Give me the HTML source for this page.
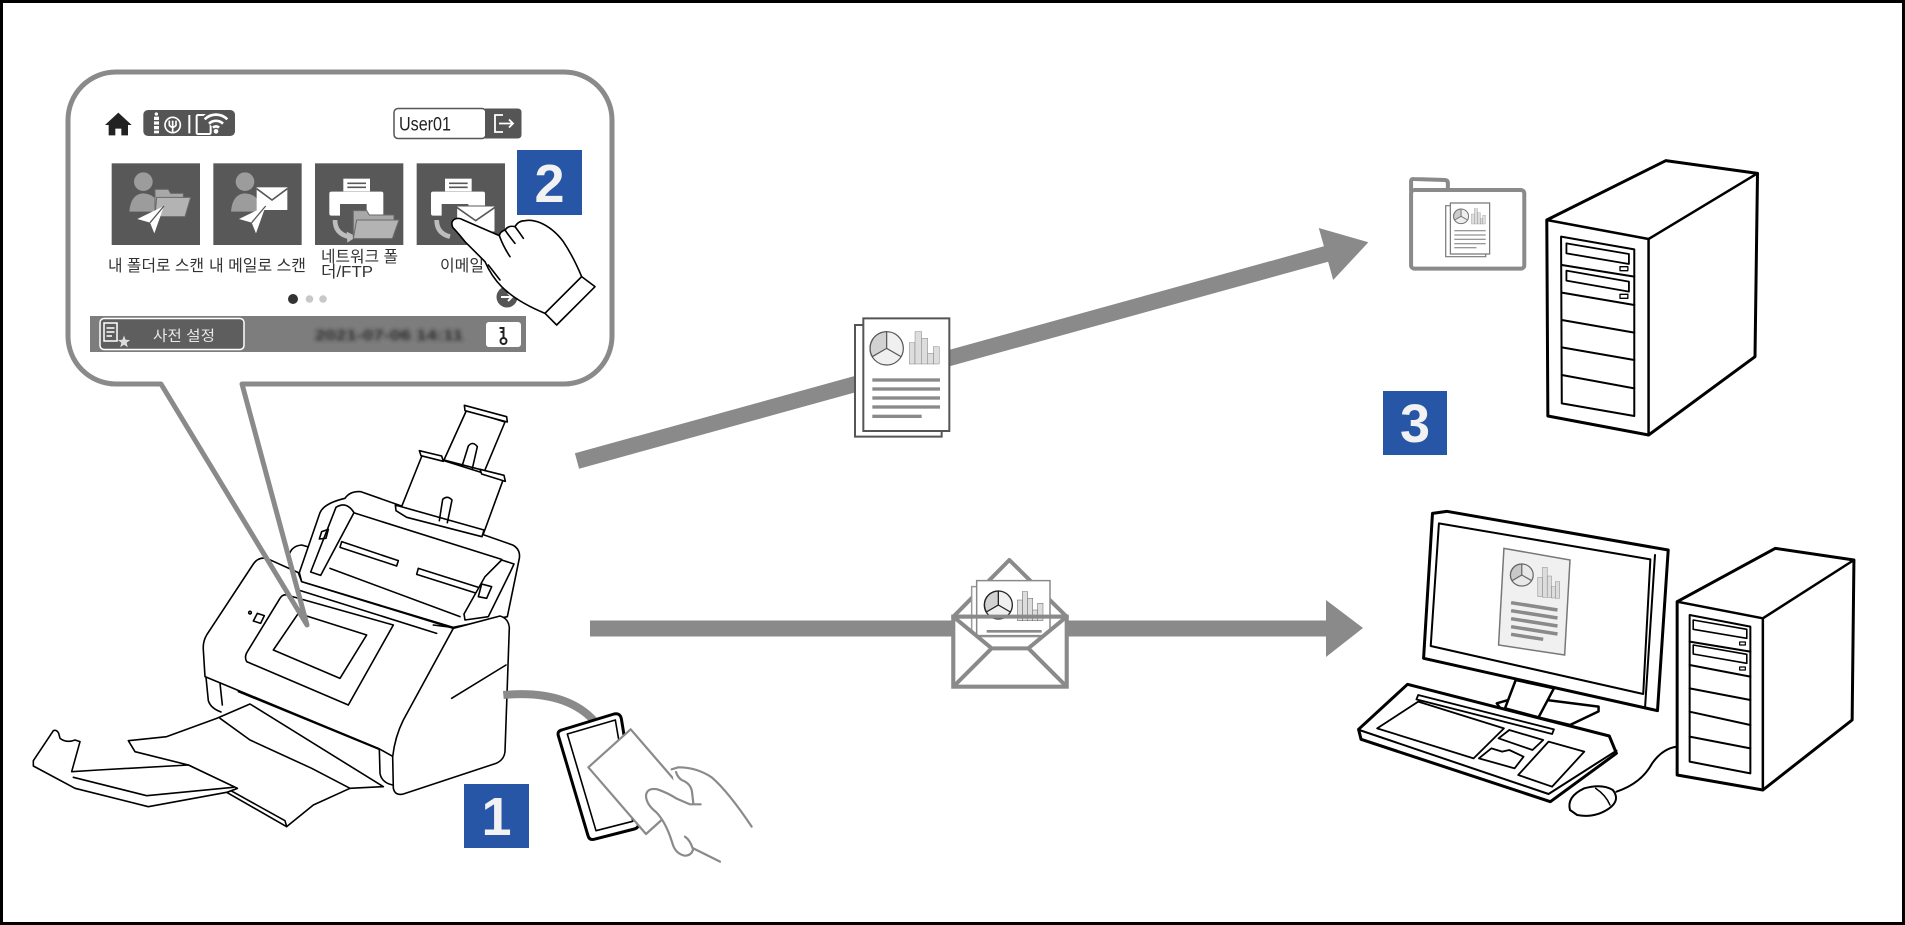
<!DOCTYPE html>
<html><head><meta charset="utf-8"><title>diagram</title>
<style>
html,body{margin:0;padding:0;background:#fff}
svg{display:block}
.k{fill:none;stroke:#000;stroke-width:1.6;vector-effect:non-scaling-stroke;stroke-linejoin:round;stroke-linecap:round}
.kw{fill:#fff;stroke:#000;stroke-width:1.6;vector-effect:non-scaling-stroke;stroke-linejoin:round;stroke-linecap:round}
.g{fill:#fff;stroke:#8a8a8a;stroke-width:2.2;vector-effect:non-scaling-stroke;stroke-linejoin:round;stroke-linecap:round}
.gn{fill:none;stroke:#8a8a8a;stroke-width:2.2;vector-effect:non-scaling-stroke;stroke-linejoin:round;stroke-linecap:round}
.t{font-family:"Liberation Sans","Noto Sans CJK KR",sans-serif}
</style></head><body>
<svg width="1905" height="925" viewBox="0 0 1905 925" xmlns="http://www.w3.org/2000/svg">
<defs>
<filter id="blur" x="-10%" y="-60%" width="120%" height="220%"><feGaussianBlur stdDeviation="2.2"/></filter>
</defs>
<rect x="0" y="0" width="1905" height="925" fill="#fff"/>

<!-- ================= SCANNER ================= -->
<g transform="translate(20,390) scale(0.33333)">
 <path class="kw" d="M740,505 Q715,500 700,522 L560,735 Q548,755 550,780 L555,860 L1075,1075 L1120,1100 L1150,1000 L1300,715 L845,575 L835,548 Z"/>
 <path class="k" d="M805,505 Q810,468 845,465 L862,470"/>
 <path class="k" d="M558,862 L565,932 Q572,955 603,966 M600,880 L607,945 M655,905 L1078,1078"/>
 <path class="kw" d="M975,325 Q990,303 1022,305 L1478,465 Q1502,478 1498,505 L1462,680 L1300,712 L845,575 L838,548 L900,368 Q912,340 975,325 Z"/>
 <path class="k" d="M1000,368 L1445,508 M930,535 L1320,680 M835,600 L1250,730 M1240,705 L1295,712"/>
 <path class="kw" d="M965,455 L1135,512 L1130,528 L960,472 Z M1195,535 L1385,595 L1380,613 L1190,553 Z"/>
 <path class="kw" d="M948,352 Q980,332 1002,368 L902,556 L872,546 Z"/>
 <path class="k" d="M905,425 L925,418 L918,445 L898,447 Z"/>
 <path class="kw" d="M1445,510 L1482,522 L1470,548 L1405,680 L1335,690 L1332,672 L1395,560 Z"/>
 <path class="k" d="M1385,582 L1415,590 L1400,625 L1375,620 Z"/>
 <path class="kw" d="M1340,60 L1455,96 L1394,242 L1272,210 Z"/>
 <path class="kw" d="M1333,46 L1460,80 L1462,96 L1335,62 Z"/>
 <path class="k" d="M1325,232 L1345,168 Q1358,152 1372,170 L1356,240"/>
 <path class="kw" d="M1208,192 L1450,268 L1390,432 L1140,362 Z"/>
 <path class="kw" d="M1198,182 L1265,198 L1270,214 L1203,197 Z M1380,238 L1452,256 L1456,274 L1385,252 Z"/>
 <path class="kw" d="M1126,345 L1392,420 L1386,440 L1160,382 L1128,362 Z"/>
 <path class="k" d="M1258,392 L1268,328 Q1282,315 1296,330 L1282,398"/>
 <path class="kw" d="M1300,715 L1440,678 Q1465,685 1468,712 L1455,1085 Q1452,1110 1428,1120 L1150,1212 Q1125,1218 1120,1195 L1118,1100 Q1125,1040 1150,990 Z"/>
 <path class="k" d="M1295,925 L1458,825 M1078,1078 L1080,1150 Q1085,1178 1118,1185"/>
 <path class="kw" d="M800,615 L1120,705 L985,945 L680,815 Q672,800 682,785 L780,625 Q788,612 800,615 Z"/>
 <path class="k" d="M835,670 L1040,735 L960,865 L760,780 Z"/>
 <path class="k" d="M700,693 L712,670 L733,677 L722,700 Z"/>
 <circle class="k" cx="690" cy="668" r="4"/>
 <path class="kw" d="M325,1052 L440,1040 L590,985 L690,942 L1090,1190 L990,1195 L880,1245 L800,1310 L620,1207 L652,1195 L505,1125 L345,1085 Z"/>
 <path class="k" d="M600,985 L690,1050 L875,1135 L990,1195 M800,1310 L795,1292 L620,1195"/>
 <path class="kw" d="M40,1112 L100,1022 Q110,1018 116,1030 L120,1045 Q140,1060 165,1050 L180,1055 L155,1145 L235,1140 L505,1125 L652,1195 L620,1207 L385,1250 L165,1195 L40,1128 Z"/>
 <path class="k" d="M160,1162 L380,1217 L640,1192"/>
</g>

<!-- ================= CARD READER ================= -->
<g transform="translate(490,680) scale(0.33333)">
 <path d="M40,45 Q225,28 312,122" fill="none" stroke="#8a8a8a" style="stroke-width:8;vector-effect:non-scaling-stroke"/>
 <path class="kw" style="stroke-width:3" d="M215,150 L372,102 Q390,98 394,116 L445,428 Q448,443 433,447 L312,478 Q298,481 294,467 L205,167 Q201,154 215,150 Z"/>
 <path class="k" d="M232,162 L376,120 L428,424 L318,452 Z"/>
 <path class="g" d="M295,262 L422,148 L595,348 L468,462 Z"/>
 <path fill="#fff" d="M545,268 L565,262 Q620,262 665,292 Q715,335 785,440 L690,545 Q640,520 610,505 Q606,527 584,527 Q560,522 550,498 L540,468 Q522,420 498,396 Q468,372 468,346 Q472,322 502,328 Q532,338 560,356 Z"/>
 <path class="gn" d="M545,268 L565,262 Q620,262 665,292 Q715,335 785,440"/>
 <path class="gn" d="M690,545 Q640,520 610,505 Q606,527 584,527 Q560,522 550,498 L540,468 Q522,420 498,396 Q468,372 468,346 Q472,322 502,328 Q532,338 560,356 L600,373 L632,373"/>
 <path class="gn" d="M558,276 Q563,292 575,300 Q602,310 606,335 L610,370 M608,505 Q600,480 585,470"/>
</g>

<!-- ================= BUBBLE ================= -->
<path d="M242,384 L564,384 A48,48 0 0 0 612,336 L612,120 A48,48 0 0 0 564,72 L116,72 A48,48 0 0 0 68,120 L68,336 A48,48 0 0 0 116,384 L161,384" fill="#fff" stroke="#8a8a8a" stroke-width="5"/>
<path d="M161,384 L307,625 M242,384 L307,625" fill="none" stroke="#8a8a8a" stroke-width="5" stroke-linecap="round" stroke-linejoin="round"/>

<!-- top bar items -->
<g transform="translate(100,100) scale(0.33333)">
 <path d="M15,75 L55,38 L95,75 L84,75 L84,106 L64,106 L64,86 L46,86 L46,106 L26,106 L26,75 Z" fill="#222"/>
 <rect x="130" y="30" width="275" height="78" rx="14" fill="#555"/>
 <rect x="162" y="50" width="15" height="50" fill="#fff"/>
 <circle cx="169" cy="42" r="5" fill="#fff"/>
 <path d="M162,62 L177,62 M162,76 L177,76 M162,90 L177,90" stroke="#555" stroke-width="4"/>
 <circle cx="218" cy="75" r="23" fill="none" stroke="#fff" stroke-width="5"/>
 <path d="M208,62 L208,76 Q218,88 228,76 L228,62 M218,62 L218,100" fill="none" stroke="#fff" stroke-width="5"/>
 <path d="M268,45 L268,100" stroke="#fff" stroke-width="6"/>
 <rect x="290" y="45" width="42" height="57" rx="4" fill="none" stroke="#fff" stroke-width="6"/>
 <path d="M314,58 A48,48 0 0 1 382,58 M327,71 A30,30 0 0 1 369,71 M339,83 A13,13 0 0 1 357,83" fill="none" stroke="#555" stroke-width="20"/>
 <path d="M314,58 A48,48 0 0 1 382,58 M327,71 A30,30 0 0 1 369,71 M339,83 A13,13 0 0 1 357,83" fill="none" stroke="#fff" stroke-width="8"/>
 <circle cx="348" cy="94" r="7" fill="#fff"/>

 <!-- tiles -->
 <rect x="35" y="190" width="265" height="245" fill="#585858"/>
 <rect x="340" y="190" width="265" height="245" fill="#585858"/>
 <rect x="645" y="190" width="265" height="245" fill="#585858"/>
 <rect x="950" y="190" width="265" height="245" fill="#585858"/>
 <!-- tile1 -->
 <circle cx="130" cy="245" r="28" fill="#9c9c9c"/>
 <path d="M88,335 Q92,282 130,280 Q168,282 178,320 L178,335 Z" fill="#9c9c9c"/>
 <path d="M165,268 L205,268 L212,280 L250,280 L250,345 L165,345 Z" fill="#a8a8a8" stroke="#6a6a6a" stroke-width="3"/>
 <path d="M170,292 L272,292 L255,350 L165,350 Z" fill="#b3b3b3" stroke="#6a6a6a" stroke-width="3"/>
 <path d="M112,357 L192,318 L163,400 L150,368 Z" fill="#fff"/>
 <path d="M150,368 L192,318" stroke="#585858" stroke-width="4"/>
 <!-- tile2 -->
 <circle cx="435" cy="245" r="28" fill="#9c9c9c"/>
 <path d="M393,335 Q397,282 435,280 Q473,282 483,320 L483,335 Z" fill="#9c9c9c"/>
 <rect x="470" y="262" width="92" height="68" fill="#fff"/>
 <path d="M470,266 L516,300 L562,266" fill="none" stroke="#585858" stroke-width="5"/>
 <path d="M417,357 L497,318 L468,400 L455,368 Z" fill="#fff"/>
 <path d="M455,368 L497,318" stroke="#585858" stroke-width="4"/>
 <!-- tile3 -->
 <rect x="730" y="236" width="80" height="38" fill="#fff"/>
 <path d="M742,250 L798,250 M742,262 L798,262" stroke="#585858" stroke-width="5"/>
 <rect x="688" y="275" width="162" height="72" rx="6" fill="#fff"/>
 <rect x="720" y="312" width="80" height="40" fill="#585858"/>
 <path d="M705,360 Q705,400 745,410" fill="none" stroke="#bdbdbd" stroke-width="14"/>
 <path d="M740,395 L770,410 L742,428 Z" fill="#bdbdbd"/>
 <path d="M760,332 L800,332 L808,345 L882,345 L882,410 L760,410 Z" fill="#a8a8a8" stroke="#6a6a6a" stroke-width="3"/>
 <path d="M770,360 L897,360 L877,416 L760,416 Z" fill="#b3b3b3" stroke="#6a6a6a" stroke-width="3"/>
 <!-- tile4 -->
 <rect x="1035" y="236" width="80" height="38" fill="#fff"/>
 <path d="M1047,250 L1103,250 M1047,262 L1103,262" stroke="#585858" stroke-width="5"/>
 <rect x="993" y="275" width="162" height="72" rx="6" fill="#fff"/>
 <rect x="1025" y="312" width="80" height="40" fill="#585858"/>
 <path d="M1010,360 Q1010,400 1050,410" fill="none" stroke="#bdbdbd" stroke-width="14"/>
 <rect x="1070" y="318" width="115" height="78" fill="#fff" stroke="#585858" stroke-width="3"/>
 <path d="M1070,322 L1127,362 L1185,322" fill="none" stroke="#585858" stroke-width="5"/>
</g>

<!-- user box -->
<rect x="394" y="108.5" width="92" height="30" rx="4" fill="#fff" stroke="#555" stroke-width="1.5"/>
<path d="M485,108.5 L517.5,108.5 Q521.5,108.5 521.5,112.5 L521.5,134.5 Q521.5,138.5 517.5,138.5 L485,138.5 Z" fill="#555"/>
<path d="M503,115 L495,115 L495,132 L503,132" fill="none" stroke="#fff" stroke-width="1.8"/>
<path d="M499,123.5 L513,123.5 M509,119.5 L513,123.5 L509,127.5" fill="none" stroke="#fff" stroke-width="1.8"/>
<text class="t" x="399" y="130.5" font-size="19" fill="#222" textLength="52" lengthAdjust="spacingAndGlyphs">User01</text>

<!-- labels -->
<g class="t" font-size="16" fill="#333">
 <text x="108" y="271" textLength="96" lengthAdjust="spacingAndGlyphs">내 폴더로 스캔</text>
 <text x="209" y="271" textLength="97" lengthAdjust="spacingAndGlyphs">내 메일로 스캔</text>
 <text x="321" y="262" textLength="77" lengthAdjust="spacingAndGlyphs">네트워크 폴</text>
 <text x="321" y="277" textLength="52" lengthAdjust="spacingAndGlyphs">더/FTP</text>
 <text x="440" y="271" textLength="44" lengthAdjust="spacingAndGlyphs">이메일</text>
</g>

<!-- dots -->
<circle cx="293" cy="299" r="5" fill="#333"/>
<circle cx="309.5" cy="299" r="3.8" fill="#c8c8c8"/>
<circle cx="323" cy="299" r="3.8" fill="#c8c8c8"/>
<circle cx="507" cy="297" r="10.5" fill="#555"/>
<path d="M501,297 L512,297 M508,293 L512,297 L508,301" fill="none" stroke="#fff" stroke-width="2"/>

<!-- bottom bar -->
<rect x="90" y="316" width="436" height="36" fill="#7d7d7d"/>
<rect x="100" y="318.5" width="144" height="31" rx="4" fill="#5e5e5e" stroke="#fff" stroke-width="1.5"/>
<rect x="104" y="323" width="13" height="18" fill="none" stroke="#fff" stroke-width="1.5"/>
<path d="M106.5,328 L114.5,328 M106.5,332 L114.5,332 M106.5,336 L112,336" stroke="#fff" stroke-width="1.4"/>
<polygon points="124,335.5 125.6,339.8 130.2,340 126.6,342.8 127.8,347.3 124,344.7 120.2,347.3 121.4,342.8 117.8,340 122.4,339.8" fill="#ddd"/>
<text class="t" x="153" y="341" font-size="14.5" fill="#e8e8e8" textLength="62" lengthAdjust="spacingAndGlyphs">사전 설정</text>
<text class="t" x="315" y="340" font-size="15" font-weight="bold" fill="#2a2a2a" textLength="148" lengthAdjust="spacingAndGlyphs" filter="url(#blur)">2021-07-06 14:11</text>
<rect x="486" y="322" width="35" height="25" rx="3" fill="#fff"/>
<circle cx="503.5" cy="341" r="3" fill="none" stroke="#222" stroke-width="2"/>
<path d="M503.5,327 L503.5,338 M503.5,328 L499.5,328 M503.5,332 L500.5,332" fill="none" stroke="#222" stroke-width="2"/>

<!-- badge 2 -->
<rect x="517" y="150" width="65" height="65" fill="#2856a6"/>
<text class="t" x="549.5" y="202" font-size="54" font-weight="bold" fill="#f2f2f2" text-anchor="middle">2</text>

<!-- pointing hand -->
<g transform="translate(400,150) scale(0.33333)">
 <path class="kw" d="M168,206 Q150,212 158,232 Q175,250 195,275 L255,335 Q275,380 305,410 Q350,455 435,490 L545,380 Q520,320 490,275 Q460,235 420,218 Q395,208 375,212 Q355,212 345,230 Q325,225 315,240 Q300,245 298,257 L190,210 Q178,203 168,206 Z"/>
 <path class="k" d="M298,257 Q310,290 330,320 M315,240 Q330,262 345,280 M345,230 Q360,250 370,265 M265,345 L300,390"/>
 <path class="kw" d="M435,490 L545,380 L585,410 L470,525 Z"/>
</g>

<!-- ================= ARROWS ================= -->
<polygon points="574.9,453.3 1323.9,246.3 1318.8,228 1368.4,242.3 1333.2,280 1328.1,261.7 579.1,468.7" fill="#8a8a8a"/>
<polygon points="590,620.5 1326,620.5 1326,600 1363,628 1326,657 1326,636.5 590,636.5" fill="#8a8a8a"/>

<!-- document on top arrow -->
<g transform="translate(840,300) scale(0.33333)">
 <rect x="45" y="75" width="260" height="335" fill="#fff" stroke="#555" style="stroke-width:2;vector-effect:non-scaling-stroke"/>
 <rect x="70" y="55" width="258" height="338" fill="#fff" stroke="#555" style="stroke-width:2;vector-effect:non-scaling-stroke"/>
 <circle cx="140" cy="145" r="50" fill="#f0f0f0" stroke="#555" style="stroke-width:1.2;vector-effect:non-scaling-stroke"/>
 <path d="M140,145 L140,95 A50,50 0 0 0 97,170 Z" fill="#d2d2d2" stroke="#555" style="stroke-width:1.2;vector-effect:non-scaling-stroke"/>
 <path d="M140,145 L183,170" stroke="#555" style="stroke-width:1.2;vector-effect:non-scaling-stroke"/>
 <g fill="#ddd" stroke="#555" style="stroke-width:1;vector-effect:non-scaling-stroke">
  <rect x="208" y="128" width="17" height="64"/><rect x="225" y="95" width="20" height="97"/><rect x="245" y="115" width="18" height="77"/><rect x="263" y="160" width="17" height="32"/><rect x="280" y="140" width="18" height="52"/>
 </g>
 <g fill="#8a8a8a">
  <rect x="97" y="235" width="203" height="10"/><rect x="97" y="262" width="203" height="10"/><rect x="97" y="289" width="203" height="10"/><rect x="97" y="316" width="203" height="10"/><rect x="97" y="344" width="148" height="10"/>
 </g>
</g>

<!-- envelope on bottom arrow -->
<g transform="translate(940,550) scale(0.33333)">
 <path d="M40,200 L208,30 L380,200 Z" fill="#fff" stroke="#8a8a8a" style="stroke-width:4;vector-effect:non-scaling-stroke" stroke-linejoin="round"/>
 <rect x="40" y="200" width="340" height="210" fill="#fff" stroke="#8a8a8a" style="stroke-width:4;vector-effect:non-scaling-stroke"/>
 <rect x="95" y="110" width="205" height="150" fill="#fff" stroke="#9a9a9a" style="stroke-width:1.5;vector-effect:non-scaling-stroke"/>
 <rect x="110" y="92" width="220" height="165" fill="#fff" stroke="#8a8a8a" style="stroke-width:1.5;vector-effect:non-scaling-stroke"/>
 <circle cx="175" cy="165" r="42" fill="#f0f0f0" stroke="#222" style="stroke-width:1.3;vector-effect:non-scaling-stroke"/>
 <path d="M175,165 L175,123 A42,42 0 0 0 139,186 Z" fill="#d2d2d2" stroke="#222" style="stroke-width:1.3;vector-effect:non-scaling-stroke"/>
 <path d="M175,165 L211,186" stroke="#222" style="stroke-width:1.3;vector-effect:non-scaling-stroke"/>
 <g fill="#ddd" stroke="#222" style="stroke-width:1;vector-effect:non-scaling-stroke">
  <rect x="232" y="150" width="15" height="62"/><rect x="247" y="125" width="16" height="87"/><rect x="263" y="145" width="15" height="67"/><rect x="278" y="180" width="15" height="32"/><rect x="293" y="160" width="16" height="52"/>
 </g>
 <rect x="140" y="240" width="165" height="8" fill="#8a8a8a"/>
 <path d="M40,200 L155,295 L265,295 L380,200 L380,410 L40,410 Z" fill="#fff" stroke="none"/>
 <path d="M40,200 L155,295 L265,295 L380,200 M40,410 L155,295 M380,410 L265,295" fill="none" stroke="#8a8a8a" style="stroke-width:4;vector-effect:non-scaling-stroke" stroke-linejoin="round"/>
 <rect x="40" y="200" width="340" height="210" fill="none" stroke="#8a8a8a" style="stroke-width:4;vector-effect:non-scaling-stroke"/>
</g>

<!-- ================= SERVER + FOLDER ================= -->
<g transform="translate(1320,140) scale(0.357143,0.333333)">
 <path d="M255,155 L255,124 Q255,116 263,117 L350,120 Q358,121 358,129 L358,150" fill="none" stroke="#8a8a8a" style="stroke-width:4;vector-effect:non-scaling-stroke"/>
 <rect x="255" y="150" width="317" height="236" rx="10" fill="#fff" stroke="#8a8a8a" style="stroke-width:4;vector-effect:non-scaling-stroke"/>
 <rect x="352" y="197" width="112" height="153" fill="#fff" stroke="#777" style="stroke-width:1.2;vector-effect:non-scaling-stroke"/>
 <rect x="365" y="189" width="110" height="153" fill="#fff" stroke="#777" style="stroke-width:1.2;vector-effect:non-scaling-stroke"/>
 <ellipse cx="395" cy="229" rx="21" ry="22" fill="#eee" stroke="#777" style="stroke-width:1;vector-effect:non-scaling-stroke"/>
 <path d="M395,229 L395,207 A21,22 0 0 0 377,240 Z" fill="#ccc" stroke="#777" style="stroke-width:1;vector-effect:non-scaling-stroke"/>
 <path d="M395,229 L413,240" stroke="#777" style="stroke-width:1;vector-effect:non-scaling-stroke"/>
 <g fill="#ddd" stroke="#777" style="stroke-width:0.8;vector-effect:non-scaling-stroke">
  <rect x="424" y="222" width="8" height="30"/><rect x="432" y="206" width="9" height="46"/><rect x="441" y="218" width="8" height="34"/><rect x="449" y="236" width="7" height="16"/><rect x="456" y="226" width="7" height="26"/>
 </g>
 <g fill="#999"><rect x="376" y="270" width="88" height="4"/><rect x="376" y="283" width="88" height="4"/><rect x="376" y="296" width="88" height="4"/><rect x="376" y="309" width="88" height="4"/><rect x="376" y="321" width="62" height="4"/></g>

 <path class="kw" style="stroke-width:3" d="M635,240 L968,62 L1225,100 L1218,650 L920,885 L638,828 Z"/>
 <path class="k" style="stroke-width:2.5" d="M635,240 L920,297 L1225,100 M920,297 L920,885"/>
 <path class="k" style="stroke-width:2" d="M675,290 L880,328 L880,828 L677,790 Z"/>
 <path class="k" style="stroke-width:2" d="M677,375 L880,410 M677,458 L880,495 M677,540 L880,578 M677,622 L880,660 M677,705 L880,745"/>
 <path class="k" style="stroke-width:1.8" d="M690,310 L865,342 L865,372 L690,340 Z M690,392 L865,425 L865,455 L690,422 Z"/>
 <rect class="k" style="stroke-width:1.3" x="840" y="380" width="22" height="12"/>
 <rect class="k" style="stroke-width:1.3" x="840" y="463" width="22" height="12"/>
</g>

<!-- badge 3 -->
<rect x="1383" y="391" width="64" height="64" fill="#2856a6"/>
<text class="t" x="1415" y="442" font-size="54" font-weight="bold" fill="#f2f2f2" text-anchor="middle">3</text>

<!-- badge 1 -->
<rect x="464" y="784" width="65" height="64" fill="#2856a6"/>
<text class="t" x="496.5" y="835" font-size="54" font-weight="bold" fill="#f2f2f2" text-anchor="middle">1</text>

<!-- ================= DESKTOP PC ================= -->
<g transform="translate(1320,490) scale(0.357143,0.333333)">
 <!-- stand -->
 <path class="kw" style="stroke-width:2.5" d="M495,640 L560,620 L780,650 L780,664 L700,705 L505,655 Z"/>
 <path class="kw" style="stroke-width:2.5" d="M548,570 L655,595 L612,682 L518,655 Z"/>
 <!-- monitor -->
 <path class="kw" style="stroke-width:3" d="M315,70 L355,64 L975,180 L945,662 L290,505 Z"/>
 <path class="k" style="stroke-width:2" d="M333,100 L925,208 L905,612 L310,468 Z"/>
 <path class="k" style="stroke-width:2" d="M938,195 L910,655"/>
 <path d="M515,175 L700,210 L685,495 L500,465 Z" fill="#f0f0f0" stroke="#777" style="stroke-width:1.5;vector-effect:non-scaling-stroke"/>
 <ellipse cx="565" cy="255" rx="32" ry="33" fill="#e8e8e8" stroke="#666" style="stroke-width:1.2;vector-effect:non-scaling-stroke"/>
 <path d="M565,255 L565,222 A32,33 0 0 0 538,272 Z" fill="#c8c8c8" stroke="#666" style="stroke-width:1.2;vector-effect:non-scaling-stroke"/>
 <path d="M565,255 L593,272" stroke="#666" style="stroke-width:1.2;vector-effect:non-scaling-stroke"/>
 <g fill="#ddd" stroke="#666" style="stroke-width:1;vector-effect:non-scaling-stroke">
  <rect x="610" y="262" width="13" height="58"/><rect x="623" y="232" width="13" height="90"/><rect x="636" y="258" width="12" height="64"/><rect x="648" y="290" width="11" height="34"/><rect x="659" y="275" width="12" height="50"/>
 </g>
 <path d="M535,338 L665,360 M535,362 L665,384 M535,386 L665,408 M535,410 L665,432 M535,433 L625,448" stroke="#8a8a8a" style="stroke-width:3.5;vector-effect:non-scaling-stroke"/>
 <!-- keyboard -->
 <path class="kw" style="stroke-width:3" d="M245,583 L810,738 L830,790 L645,935 L115,748 L108,718 Z"/>
 <path class="k" style="stroke-width:2" d="M110,720 L640,912 L830,782"/>
 <path class="k" style="stroke-width:1.8" d="M160,715 L275,635 L515,715 L430,805 Z M275,615 L655,718 L650,732 L270,628 Z M500,745 L530,720 L625,750 L595,780 Z M445,805 L480,775 L510,785 L530,780 L570,800 L545,835 Z M555,855 L640,755 L740,785 L650,890 Z"/>
 <!-- mouse + cable -->
 <path class="k" style="stroke-width:2" d="M830,905 Q900,880 930,820 Q960,775 1000,770"/>
 <path class="kw" style="stroke-width:2" d="M700,960 Q690,920 740,895 Q790,880 820,900 Q842,930 810,955 Q770,985 720,975 Z"/>
 <path class="k" style="stroke-width:1.5" d="M772,895 Q800,915 812,945"/>
 <!-- tower -->
 <path class="kw" style="stroke-width:3" d="M1000,335 L1275,175 L1495,210 L1490,690 L1240,900 L1000,855 Z"/>
 <path class="k" style="stroke-width:2.5" d="M1000,335 L1240,385 L1495,210 M1240,385 L1240,900"/>
 <path class="k" style="stroke-width:2" d="M1035,375 L1205,410 L1205,850 L1035,815 Z"/>
 <path class="k" style="stroke-width:2" d="M1035,455 L1205,485 M1035,525 L1205,560 M1035,595 L1205,630 M1035,665 L1205,705 M1035,740 L1205,775"/>
 <path class="k" style="stroke-width:1.6" d="M1045,390 L1195,418 L1195,445 L1045,418 Z M1045,465 L1195,493 L1195,520 L1045,492 Z"/>
 <rect class="k" style="stroke-width:1.2" x="1175" y="456" width="16" height="9"/>
 <rect class="k" style="stroke-width:1.2" x="1175" y="531" width="16" height="9"/>
</g>

<rect x="1.5" y="1.5" width="1902" height="922" fill="none" stroke="#000" stroke-width="3"/>
</svg>
</body></html>
